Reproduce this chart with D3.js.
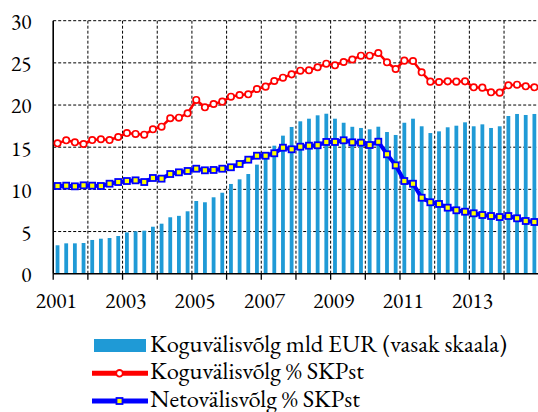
<!DOCTYPE html>
<html><head><meta charset="utf-8">
<script src="https://cdn.jsdelivr.net/npm/d3@7/dist/d3.min.js"></script>
<style>body{margin:0;background:#fff}svg{display:block}</style>
</head><body><svg id="c" width="538" height="412"></svg>
<script>
const years = [2001,2002,2003,2004,2005,2006,2007,2008,2009,2010,2011,2012,2013,2014];
const quarterNames = ["I","II","III","IV"];
const categories = years.flatMap(y => quarterNames.map(q => y + " " + q));
const grossDebtEUR = [
  3.37,3.6,3.6,3.64, 4.0,4.15,4.23,4.47, 4.9,5.03,5.1,5.57, 5.93,6.69,6.86,7.4,
  8.62,8.47,9.06,9.6, 10.64,11.19,11.82,12.93, 14.0,15.18,16.37,17.4, 18.07,18.38,18.78,18.97,
  18.38,17.9,17.42,17.28, 17.12,17.43,16.8,16.45, 17.9,18.38,17.48,16.68, 16.88,17.36,17.55,17.95,
  17.48,17.71,17.28,17.48, 18.7,18.94,18.82,18.94
];
const grossDebtPct = [
  15.46,15.82,15.58,15.38, 15.85,15.94,15.85,16.21, 16.68,16.57,16.48,17.12, 17.43,18.43,18.5,19.02,
  20.6,19.73,20.12,20.4, 20.99,21.19,21.27,21.9, 22.18,22.85,23.24,23.64, 24.07,24.12,24.48,24.9,
  24.71,25.1,25.4,25.85, 25.85,26.17,25.07,24.27, 25.26,25.22,23.88,22.77, 22.73,22.81,22.77,22.81,
  22.1,22.06,21.51,21.47, 22.34,22.41,22.22,22.1
];
const netDebtPct = [
  10.4,10.44,10.36,10.48, 10.44,10.4,10.67,10.87, 10.99,11.07,10.87,11.35, 11.27,11.82,12.02,12.18,
  12.45,12.26,12.3,12.45, 12.62,13.01,13.52,13.99, 13.99,14.28,14.94,14.75, 15.06,15.18,15.23,15.62,
  15.62,15.82,15.58,15.54, 15.26,15.65,14.16,12.85, 10.99,10.67,9.01,8.47, 8.27,7.83,7.52,7.35,
  7.16,6.96,6.84,6.72, 6.84,6.57,6.25,6.13
];
const yTicks = [0,5,10,15,20,25,30];
const xTickLabels = ["2001","2003","2005","2007","2009","2011","2013"];
const legendLabels = ["Koguvälisvõlg mld EUR (vasak skaala)","Koguvälisvõlg % SKPst","Netovälisvõlg % SKPst"];

(function(){
const FONT = "EB Garamond";
const BAR = "#1f9ad6";
const svg = d3.select("#c");
const pL = 53.2, pT = 20.7, pB = 273.7, step = 8.67;
const pR = pL + categories.length * step;
const x = d3.scaleBand().domain(categories).range([pL, pR]).padding(0);
const y = d3.scaleLinear().domain([0, 30]).range([pB, pT]);
const cx = c => x(c) + x.bandwidth() / 2;

// font size fitting helper: size so that a sample string spans a target width
function fitSize(sample, target) {
  const t = svg.append("text").style("font-family", FONT).style("font-size", "20px").text(sample);
  const w = t.node().getComputedTextLength();
  t.remove();
  return w > 0 ? 20 * target / w : 20;
}
const axisSize = fitSize("2001", 41);
const legendSize = fitSize(legendLabels[0], 357);

// gridlines
const g = svg.append("g");
g.selectAll("line.h").data(yTicks.filter(t => t > 0)).join("line").attr("class","h")
  .attr("x1", pL).attr("x2", pR).attr("y1", d => y(d)).attr("y2", d => y(d))
  .attr("stroke", "#000").attr("stroke-width", 1).attr("stroke-dasharray", "3,2");
g.selectAll("line.v").data(years.slice(1)).join("line").attr("class","v")
  .attr("x1", d => x(d + " I")).attr("x2", d => x(d + " I")).attr("y1", pT).attr("y2", pB)
  .attr("stroke", "#000").attr("stroke-width", 1).attr("stroke-dasharray", "3,2");

// bars
const bw = 3.8;
svg.append("g").selectAll("rect").data(categories).join("rect")
  .attr("x", d => cx(d) - bw / 2).attr("width", bw)
  .attr("y", (d, i) => y(grossDebtEUR[i])).attr("height", (d, i) => pB - y(grossDebtEUR[i]))
  .attr("fill", BAR);

// axes
const xAxis = d3.axisBottom(x).tickValues(years.map(yv => yv + " I")).tickFormat("").tickSize(6).tickSizeOuter(0);
const xa = svg.append("g").attr("transform", `translate(0,${pB})`).call(xAxis);
xa.selectAll(".tick line").attr("transform", `translate(${-x.bandwidth()/2},0)`).attr("stroke-width", 1.3);
xa.select(".domain").remove();
svg.append("line").attr("x1", pL).attr("x2", pR).attr("y1", pB).attr("y2", pB).attr("stroke", "#000").attr("stroke-width", 1.6);
svg.append("line").attr("x1", pL).attr("x2", pL).attr("y1", pT).attr("y2", pB).attr("stroke", "#000").attr("stroke-width", 1.6);

svg.append("g").selectAll("text").data(yTicks).join("text")
  .attr("x", 31.5).attr("y", d => y(d) + 8.4)
  .attr("text-anchor", "end").style("font-family", FONT).style("font-size", axisSize + "px").attr("fill", "#000")
  .text(d => d);

svg.append("g").selectAll("text").data(xTickLabels).join("text")
  .attr("x", d => cx(d + " I") - 1.2).attr("y", 308.3)
  .attr("text-anchor", "middle").style("font-family", FONT).style("font-size", axisSize + "px").attr("fill", "#000")
  .text(d => d);

// lines
const lineGen = arr => d3.line().x((d, i) => cx(categories[i])).y(d => y(d))(arr);
svg.append("path").attr("d", lineGen(grossDebtPct)).attr("fill", "none").attr("stroke", "#ff0000").attr("stroke-width", 2.5);
svg.append("g").selectAll("circle").data(grossDebtPct).join("circle")
  .attr("cx", (d, i) => cx(categories[i])).attr("cy", d => y(d)).attr("r", 3.2)
  .attr("fill", "#fff").attr("stroke", "#ff0000").attr("stroke-width", 1.7);

svg.append("path").attr("d", lineGen(netDebtPct)).attr("fill", "none").attr("stroke", "#0000ff").attr("stroke-width", 4);
const sq = 6;
svg.append("g").selectAll("rect").data(netDebtPct).join("rect")
  .attr("x", (d, i) => cx(categories[i]) - sq / 2).attr("y", d => y(d) - sq / 2)
  .attr("width", sq).attr("height", sq)
  .attr("fill", "#ffff00").attr("stroke", "#0000ff").attr("stroke-width", 1.8);

// legend
const lg = svg.append("g");
const rowY = [351.6, 379.4, 407.2];
lg.append("rect").attr("x", 94).attr("y", 339).attr("width", 52).attr("height", 13).attr("fill", BAR);
lg.append("line").attr("x1", 92).attr("x2", 148).attr("y1", 373.3).attr("y2", 373.3).attr("stroke", "#ff0000").attr("stroke-width", 5);
lg.append("circle").attr("cx", 119.5).attr("cy", 373.3).attr("r", 3.3).attr("fill", "#fff").attr("stroke", "#ff0000").attr("stroke-width", 1.8);
lg.append("line").attr("x1", 92).attr("x2", 148).attr("y1", 401).attr("y2", 401).attr("stroke", "#0000ff").attr("stroke-width", 5);
lg.append("rect").attr("x", 116.5).attr("y", 398).attr("width", 6).attr("height", 6).attr("fill", "#ffff00").attr("stroke", "#0000ff").attr("stroke-width", 1.8);
lg.selectAll("text").data(legendLabels).join("text")
  .attr("x", 150).attr("y", (d, i) => rowY[i])
  .style("font-family", FONT).style("font-size", legendSize + "px").attr("fill", "#000")
  .text(d => d);
})();
</script></body></html>
